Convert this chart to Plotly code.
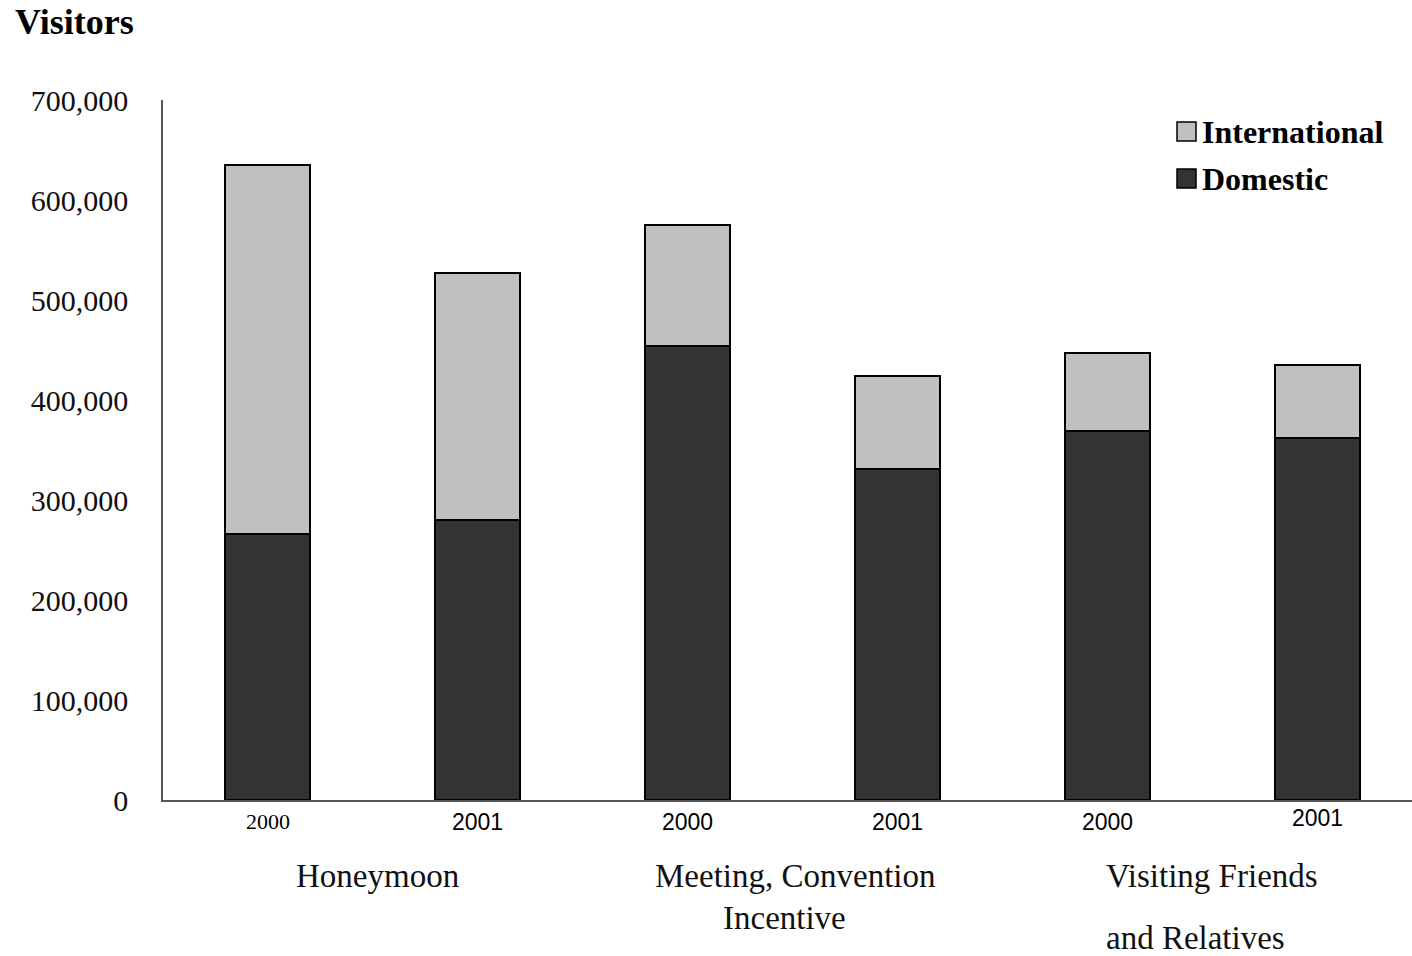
import plotly.graph_objects as go

# Visitors by trip purpose and year
bar_years = ["2000", "2001", "2000", "2001", "2000", "2001"]
domestic = [266000, 280000, 454000, 331000, 369000, 362000]
international = [369000, 247000, 121000, 93000, 78000, 73000]
purposes = ["Honeymoon", "Meeting, Convention", "Visiting Friends"]
purpose_second_line = ["", "Incentive", "and Relatives"]
y_ticks = [0, 100000, 200000, 300000, 400000, 500000, 600000, 700000]

positions = list(range(len(bar_years)))
serif = "Liberation Serif"
sans = "Liberation Sans"

W, H = 1412, 956
L, R, T, B = 163, 0, 100, 156
pw, ph = W - L - R, H - T - B


def px_to_paper(xp, yp):
    return (xp - L) / pw, (H - B - yp) / ph


fig = go.Figure()
fig.add_trace(go.Bar(
    x=positions, y=domestic, name="Domestic", width=0.405,
    marker=dict(color="#333333", line=dict(color="#000000", width=2)),
))
fig.add_trace(go.Bar(
    x=positions, y=international, name="International", width=0.405,
    marker=dict(color="#c0c0c0", line=dict(color="#000000", width=2)),
))

annotations = []
# year labels under each bar (first one in serif, rest in sans)
for i, yr in enumerate(bar_years):
    annotations.append(dict(
        x=i, y=-0.0314 if i != 5 else -0.0257, xref="x", yref="paper", text=yr,
        showarrow=False, yanchor="middle",
        font=dict(family=serif if i == 0 else sans, size=22 if i == 0 else 23, color="#000"),
    ))

# purpose group labels
cat_font = dict(family=serif, size=33, color="#111")
annotations.append(dict(x=0.522, y=-0.1086, xref="x", yref="paper", text=purposes[0],
                        showarrow=False, yanchor="middle", font=cat_font))
annotations.append(dict(x=2.511, y=-0.1086, xref="x", yref="paper", text=purposes[1],
                        showarrow=False, yanchor="middle", font=cat_font))
annotations.append(dict(x=2.459, y=-0.1686, xref="x", yref="paper", text=purpose_second_line[1],
                        showarrow=False, yanchor="middle", font=cat_font))
annotations.append(dict(x=3.985, y=-0.1086, xref="x", yref="paper", text=purposes[2], xanchor="left",
                        showarrow=False, yanchor="middle", font=cat_font))
annotations.append(dict(x=3.985, y=-0.197, xref="x", yref="paper", text=purpose_second_line[2], xanchor="left",
                        showarrow=False, yanchor="middle", font=cat_font))

# axis title
tx, ty = px_to_paper(13, 22)
annotations.append(dict(x=tx, y=ty, xref="paper", yref="paper", text="<b>Visitors</b>",
                        showarrow=False, xanchor="left", yanchor="middle",
                        font=dict(family=serif, size=36, color="#000")))

# legend entries drawn as swatches + labels
legend_items = [("International", "#c0c0c0", 132), ("Domestic", "#333333", 179)]
shapes = []
for name, color, ypix in legend_items:
    x0, y0 = px_to_paper(1177, ypix - 10)
    x1, y1 = px_to_paper(1196, ypix + 9)
    shapes.append(dict(type="rect", xref="paper", yref="paper",
                       x0=x0, x1=x1, y0=y1, y1=y0, fillcolor=color,
                       line=dict(color="#000", width=1.5)))
    lx, ly = px_to_paper(1200, ypix)
    annotations.append(dict(text=f"<b>{name}</b>", showarrow=False, xanchor="left", yanchor="middle",
                            xref="paper", yref="paper", x=lx, y=ly,
                            font=dict(family=serif, size=32, color="#000")))

fig.update_layout(
    barmode="stack",
    width=W, height=H,
    margin=dict(l=L, r=R, t=T, b=B, pad=0),
    plot_bgcolor="white", paper_bgcolor="white",
    showlegend=False,
    annotations=annotations,
    shapes=shapes,
    xaxis=dict(range=[-0.5, 5.45], showticklabels=False, showgrid=False, zeroline=False,
               showline=True, linecolor="#555", linewidth=1.5, ticks=""),
    yaxis=dict(range=[0, 700000], tickvals=y_ticks, tickformat=",d",
               showgrid=False, zeroline=False, showline=True, linecolor="#555", linewidth=1.5,
               ticks="", ticklabelstandoff=27,
               tickfont=dict(family=serif, size=30, color="#111")),
)

fig.write_html("out.html")
